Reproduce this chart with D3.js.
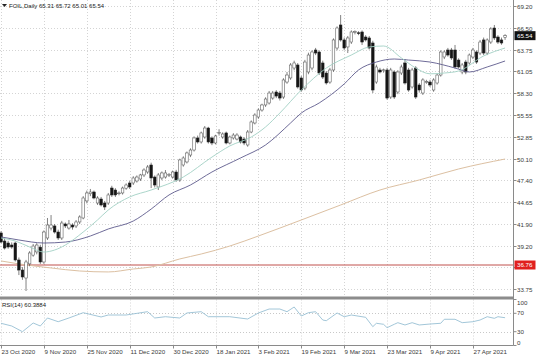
<!DOCTYPE html>
<html><head><meta charset="utf-8">
<script src="https://cdn.jsdelivr.net/npm/d3@7"></script>
<style>html,body{margin:0;padding:0;background:#fff;overflow:hidden}svg{display:block;font-family:"Liberation Sans",Arial,sans-serif}</style>
</head><body><svg id="c" width="536" height="357"></svg>
<script>
const opens=[40.78,39.77,39.52,39.27,39.52,37.39,36.13,35.13,36.90,38.00,38.40,39.00,37.14,40.15,41.40,41.66,40.90,40.15,41.91,41.40,41.78,41.66,42.16,42.66,44.80,45.70,45.92,44.54,45.04,44.54,44.54,46.42,46.17,45.70,45.80,46.40,47.05,47.05,47.30,47.55,48.06,48.43,49.31,47.80,46.55,47.68,47.80,48.06,47.80,48.43,47.43,49.31,49.69,50.56,51.19,52.70,52.20,52.82,53.95,52.70,52.07,53.30,52.82,53.33,52.07,52.70,52.57,52.82,52.57,51.82,53.45,54.58,55.33,56.21,56.84,57.09,57.71,58.47,58.34,57.84,59.72,60.23,61.48,61.86,60.23,58.97,60.98,61.48,63.74,63.49,62.11,60.85,59.72,61.23,63.99,66.88,65.00,64.12,64.74,65.95,65.90,66.00,65.37,65.25,64.62,59.72,61.23,61.20,61.23,57.84,60.98,58.47,60.85,62.11,61.23,59.10,61.48,59.35,58.34,59.72,59.72,58.72,59.60,60.60,62.86,63.74,63.74,63.74,62.48,60.98,62.23,62.11,62.86,63.49,63.36,65.00,63.36,64.74,66.50,65.37,65.00,65.31];
const highs=[41.00,40.10,39.80,39.60,39.70,37.70,36.50,37.40,38.50,39.40,39.50,39.30,41.10,42.66,43.03,41.90,41.20,42.30,42.10,42.41,42.00,42.40,43.00,45.40,46.10,46.30,46.10,45.40,45.30,44.80,45.80,46.70,46.40,46.00,46.60,47.00,47.30,47.90,48.00,48.20,48.90,49.30,49.60,48.00,48.30,48.50,48.68,48.30,48.60,48.70,50.10,50.40,51.00,51.40,52.90,53.00,53.50,54.20,54.10,52.90,53.10,53.80,53.40,53.50,53.00,53.30,53.30,53.00,52.80,53.70,54.90,55.80,56.40,57.00,57.80,58.60,58.60,58.70,58.60,60.20,60.98,62.10,62.40,62.10,60.50,62.50,63.40,63.70,64.00,63.70,62.40,61.10,61.50,65.20,66.70,68.13,65.30,65.50,66.20,66.20,66.10,66.20,65.60,65.50,64.90,61.90,61.50,61.40,61.50,61.50,61.20,61.20,61.90,62.60,61.50,61.50,61.70,59.60,60.20,60.00,60.00,60.20,60.80,63.70,63.70,64.00,64.00,64.37,62.70,62.10,62.50,63.30,64.00,63.70,65.00,65.30,65.20,66.60,66.88,65.60,65.30,65.72];
const lows=[39.50,38.70,38.80,38.80,37.20,35.50,34.90,33.50,36.60,37.80,38.10,36.90,36.90,39.90,41.10,40.70,39.90,39.90,41.40,41.20,41.20,41.40,41.90,42.50,44.50,45.40,45.00,44.30,44.10,43.66,44.30,45.30,45.30,45.50,45.60,46.20,46.30,46.80,47.10,47.30,47.80,48.20,46.42,46.50,46.17,47.40,47.60,47.80,47.60,47.20,47.20,49.10,49.50,50.30,51.00,52.00,52.00,52.60,52.00,51.80,51.90,53.00,52.60,51.90,51.90,52.50,52.40,52.00,51.80,51.60,53.30,54.40,55.10,56.00,56.60,56.90,57.50,57.70,57.40,57.60,59.50,60.00,61.20,58.90,58.50,58.70,60.70,61.20,63.10,60.60,60.10,59.40,59.50,61.00,63.70,64.80,63.70,63.36,64.50,65.70,65.60,64.37,64.80,63.80,58.34,59.50,60.80,60.90,57.50,57.60,57.60,58.20,60.60,59.40,58.50,58.90,57.60,58.40,58.10,59.50,59.10,58.50,59.40,60.40,62.60,62.90,62.50,61.40,61.40,60.70,60.70,61.90,62.60,62.00,63.10,63.10,63.10,64.50,65.00,64.50,64.40,65.01];
const closes=[39.64,38.89,39.02,39.02,37.39,36.13,35.26,37.14,38.27,39.14,39.27,37.14,40.90,41.78,41.78,40.90,40.15,42.03,41.66,41.91,41.53,42.16,42.79,45.17,45.80,45.92,45.17,45.17,44.29,44.04,45.55,45.55,45.55,45.80,46.42,46.80,46.55,47.68,47.80,48.06,48.68,49.06,47.68,46.80,48.06,48.31,48.31,48.10,48.43,47.43,49.94,50.19,50.82,51.19,52.70,52.20,53.33,53.95,52.20,52.07,52.95,53.40,53.20,52.07,52.82,53.07,53.07,52.20,52.07,53.45,54.71,55.58,56.21,56.84,57.59,58.34,58.34,57.96,57.71,59.98,60.60,61.86,62.11,59.10,58.72,62.23,63.11,63.49,63.36,60.85,60.35,59.60,61.23,65.00,66.50,65.00,63.99,65.25,66.00,66.05,65.85,64.74,65.00,63.99,58.72,61.61,60.98,61.25,57.71,61.23,57.84,60.98,61.61,59.60,58.72,61.23,57.84,58.72,59.98,59.76,59.35,59.98,60.60,63.49,63.49,63.11,62.74,61.61,61.61,61.86,60.98,63.11,63.74,62.23,64.74,63.36,65.00,66.38,65.25,64.74,64.62,65.54];

const tickLabels=["23 Oct 2020","9 Nov 2020","25 Nov 2020","11 Dec 2020","30 Dec 2020","18 Jan 2021","3 Feb 2021","19 Feb 2021","9 Mar 2021","23 Mar 2021","9 Apr 2021","27 Apr 2021"];
const barsPerTick=12;
const priceTicks=[69.20,66.50,63.75,61.05,58.30,55.55,52.85,50.10,47.40,44.65,41.90,39.20,36.45,33.75];
const priceLabels=["69.20","66.50","63.75","61.05","58.30","55.55","52.85","50.10","47.40","44.65","41.90","39.20","","33.75"];

const maFastIdx=[0,4,8,12,15,18,23,27,30,36,42,51,59,64,70,74,78,84,91,98,103,107,112,116,120,124,128,135,141];
const maFastVal=[40.15,39.77,39.02,38.39,38.64,39.27,40.90,42.41,43.66,45.30,46.17,47.80,50.30,51.70,52.82,54.08,55.83,58.72,61.48,63.11,64.12,64.24,62.74,61.48,60.75,60.85,61.10,62.99,63.99];
const maSlowIdx=[0,5,12,18,25,30,37,42,47,53,59,67,74,81,84,89,96,100,105,110,114,120,127,131,136,141];
const maSlowVal=[40.28,39.90,39.52,39.64,40.40,41.28,42.28,43.78,45.55,46.80,48.43,50.19,51.82,54.58,55.83,57.09,59.48,61.23,62.23,62.61,62.48,62.23,61.48,60.98,61.61,62.36];
const maLongIdx=[0,5,14,22,30,37,42,50,56,64,72,84,95,106,117,128,141];
const maLongVal=[37.27,36.90,36.39,36.01,35.89,36.26,36.51,37.52,38.14,39.14,40.40,42.41,44.29,46.17,47.43,48.81,50.06];

const rsiIdx=[0,3,6,9,11,13,16,19,23,28,30,35,41,43,46,50,52,56,58,64,69,72,75,78,80,82,84,86,88,90,91,94,96,98,102,104,105,107,108,110,111,113,115,117,120,123,124,127,129,132,134,136,138,139,141];
const rsiVal=[48.3,42.4,30.0,48.9,42.4,59.8,51.7,59.8,71.3,62.0,66.3,66.3,73.5,59.8,62.6,59.8,70.7,73.5,62.6,62.6,57.6,70.7,79.3,79.3,73.5,83.7,64.1,71.3,73.5,55.4,53.9,70.7,62.6,66.3,61.3,40.9,48.3,46.1,38.7,46.1,49.6,44.6,49.6,44.6,46.7,48.3,57.0,57.0,49.6,51.7,55.4,62.6,59.1,62.6,60.39];
const rsiLevels=[100,70,30,0];
const levelPrice=36.76, levelLabel="36.76";
const lastPrice=65.54, lastLabel="65.54";
const header="FOIL,Daily  65.31 65.72 65.01 65.54";
const rsiHeader="RSI(14) 60.3884";

const svg=d3.select("#c");
const axisX=513.5, mainTop=0, mainBot=296.5, rsiTop=299.5, rsiBot=345.5;
const N=closes.length;
const x=d3.scaleLinear().domain([0,141]).range([1,1+3.575*141]);
const y=d3.scaleLinear().domain([33.75,66.5]).range([289,28]);
const yr=d3.scaleLinear().domain([0,100]).range([rsiBot,rsiTop]);
const gridC="#d4d4d4", txtC="#3a3a3a", axC="#8a8a8a";

const g=svg.append("g");
priceTicks.forEach(p=>{g.append("line").attr("x1",0).attr("x2",axisX).attr("y1",Math.round(y(p))+0.5).attr("y2",Math.round(y(p))+0.5).attr("stroke",gridC).attr("stroke-dasharray","1,2");});
tickLabels.forEach((t,k)=>{const xx=Math.round(x(k*barsPerTick))+0.5;
 g.append("line").attr("x1",xx).attr("x2",xx).attr("y1",mainTop).attr("y2",mainBot).attr("stroke",gridC).attr("stroke-dasharray","1,2");
 g.append("line").attr("x1",xx).attr("x2",xx).attr("y1",rsiTop).attr("y2",rsiBot).attr("stroke",gridC).attr("stroke-dasharray","1,2");
});
[70,30].forEach(v=>{g.append("line").attr("x1",0).attr("x2",axisX).attr("y1",Math.round(yr(v))+0.5).attr("y2",Math.round(yr(v))+0.5).attr("stroke","#c8c8c8").attr("stroke-dasharray","1,2");});

svg.append("line").attr("x1",0).attr("x2",axisX).attr("y1",y(levelPrice)).attr("y2",y(levelPrice)).attr("stroke","#c0504d").attr("stroke-width",1);

const mk=(idx,val)=>idx.map((d,i)=>[d,val[i]]);
const ln=d3.line().x(d=>x(d[0])).y(d=>y(d[1])).curve(d3.curveMonotoneX);
svg.append("path").attr("d",ln(mk(maLongIdx,maLongVal))).attr("fill","none").attr("stroke","#dcc0a2").attr("stroke-width",1);

const cg=svg.append("g");
const bw=2.6;
for(let i=0;i<N;i++){
 const xc=x(i);
 cg.append("line").attr("x1",xc).attr("x2",xc).attr("y1",y(highs[i])).attr("y2",y(lows[i])).attr("stroke","#4a4a4a").attr("stroke-width",0.7);
 const top=y(Math.max(opens[i],closes[i])), bot=y(Math.min(opens[i],closes[i]));
 const up=closes[i]>=opens[i];
 cg.append("rect").attr("x",xc-bw/2).attr("y",top).attr("width",bw).attr("height",Math.max(0.8,bot-top))
  .attr("fill",up?"#fff":"#151515").attr("stroke",up?"#555":"#222").attr("stroke-width",0.55);
}
svg.append("path").attr("d",ln(mk(maSlowIdx,maSlowVal))).attr("fill","none").attr("stroke","#5d5a8c").attr("stroke-width",0.9);
svg.append("path").attr("d",ln(mk(maFastIdx,maFastVal))).attr("fill","none").attr("stroke","#a2d0c4").attr("stroke-width",0.9);

const lr=d3.line().x(d=>x(d[0])).y(d=>yr(d[1]));
svg.append("path").attr("d",lr(mk(rsiIdx,rsiVal))).attr("fill","none").attr("stroke","#97c0d4").attr("stroke-width",0.9);

svg.append("rect").attr("x",0).attr("y",mainBot).attr("width",axisX).attr("height",3).attr("fill","#8c8c8c");
svg.append("line").attr("x1",axisX).attr("x2",axisX).attr("y1",0).attr("y2",rsiBot).attr("stroke",axC);
svg.append("line").attr("x1",0).attr("x2",axisX).attr("y1",rsiBot).attr("y2",rsiBot).attr("stroke",axC);

const fs=6.2;
priceTicks.forEach((p,i)=>{const yy=Math.round(y(p))+0.5;
 svg.append("line").attr("x1",axisX).attr("x2",axisX+3).attr("y1",yy).attr("y2",yy).attr("stroke",axC);
 if(priceLabels[i]) svg.append("text").attr("x",517).attr("y",yy).attr("dy","0.35em").attr("font-size",fs).attr("fill",txtC).text(priceLabels[i]);
});
rsiLevels.forEach(v=>{const yy=Math.min(Math.max(yr(v),303),342.5);
 svg.append("line").attr("x1",axisX).attr("x2",axisX+3).attr("y1",yr(v)).attr("y2",yr(v)).attr("stroke",axC);
 svg.append("text").attr("x",517).attr("y",yy).attr("dy","0.35em").attr("font-size",fs).attr("fill",txtC).text(v);
});
const box=(p,lab,bg)=>{const yy=y(p);
 svg.append("rect").attr("x",514.5).attr("y",yy-4.5).attr("width",21).attr("height",9).attr("fill",bg);
 svg.append("text").attr("x",517).attr("y",yy).attr("dy","0.35em").attr("font-size",fs).attr("fill","#fff").text(lab);};
box(levelPrice,levelLabel,"#e0201e");
box(lastPrice,lastLabel,"#111");

tickLabels.forEach((t,k)=>{const xx=Math.round(x(k*barsPerTick))+0.5;
 svg.append("line").attr("x1",xx).attr("x2",xx).attr("y1",rsiBot).attr("y2",rsiBot+3).attr("stroke",axC);
 svg.append("text").attr("x",xx).attr("y",354).attr("font-size",fs).attr("fill",txtC).text(t);
});
svg.append("path").attr("d","M2,4 L7,4 L4.5,7 Z").attr("fill","#222");
svg.append("text").attr("x",9).attr("y",8).attr("font-size",6).attr("fill","#222").text(header);
svg.append("text").attr("x",2).attr("y",306.5).attr("font-size",6).attr("fill","#222").text(rsiHeader);
</script></body></html>
